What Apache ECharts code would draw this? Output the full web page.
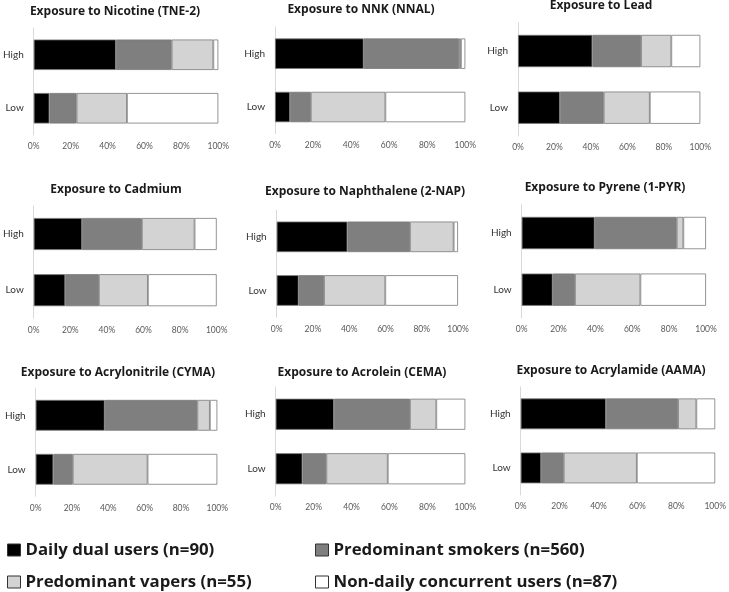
<!DOCTYPE html>
<html>
<head>
<meta charset="utf-8">
<script src="https://cdn.jsdelivr.net/npm/echarts@6/dist/echarts.min.js"></script>
<style>
  html, body { margin: 0; padding: 0; background: #fff; }
  #chart { width: 729px; height: 592px; }
</style>
</head>
<body>
<div id="chart"></div>
<script>
// ---- Data ----
const panelTitles = [
  'Exposure to Nicotine (TNE-2)',
  'Exposure to NNK (NNAL)',
  'Exposure to Lead',
  'Exposure to Cadmium',
  'Exposure to Naphthalene (2-NAP)',
  'Exposure to Pyrene (1-PYR)',
  'Exposure to Acrylonitrile (CYMA)',
  'Exposure to Acrolein (CEMA)',
  'Exposure to Acrylamide (AAMA)'
];
const levels = ['High', 'Low'];
const seriesNames = [
  'Daily dual users (n=90)',
  'Predominant smokers (n=560)',
  'Predominant vapers (n=55)',
  'Non-daily concurrent users (n=87)'
];
// values per panel: [High, Low] in %
const dailyDual   = [[44.5, 8.5], [46.6, 7.9], [40.8, 23.0], [26.4, 17.2], [39.0, 12.1], [39.6, 16.8], [38.0, 9.7], [30.7, 14.1], [43.8, 10.5]];
const predSmokers = [[30.2, 14.7], [50.1, 10.9], [26.7, 24.0], [32.7, 18.4], [34.5, 14.0], [44.5, 12.1], [51.0, 10.7], [40.1, 12.6], [37.1, 11.6]];
const predVapers  = [[22.6, 27.3], [1.0, 39.2], [16.6, 25.3], [28.8, 26.8], [24.1, 33.8], [3.6, 35.5], [6.9, 41.2], [13.9, 32.4], [9.4, 37.6]];
const nonDaily    = [[2.7, 49.5], [2.3, 42.0], [15.9, 27.7], [12.1, 37.6], [2.4, 40.1], [12.3, 35.6], [4.1, 38.4], [15.3, 40.9], [9.7, 40.3]];
const xTickStep = 20;

// ---- Layout (pixel positions, styles) ----
const gridBoxes = [
  // left, right(x of 100%), top, bottom
  [30.3, 218.3, 28, 135],
  [275, 465.3, 27, 133.7],
  [518, 700.3, 22.7, 136],
  [32.3, 216.7, 205.9, 318.3],
  [276.7, 458, 210, 317.3],
  [521.7, 706, 204.7, 318],
  [35.7, 217.3, 388.3, 496.3],
  [275.7, 465.3, 387, 496],
  [520.7, 718.3, 386.8, 495]
];
const titlePos = [
  [115, 12], [361, 10], [601, 6],
  [116, 190], [365, 192], [605, 188],
  [118, 373], [362, 373], [611, 371]
];
const colors = ['#000000', '#7f7f7f', '#d3d3d3', '#ffffff'];
const seriesValues = [dailyDual, predSmokers, predVapers, nonDaily];
const FONT = 'Lato, "Open Sans", sans-serif';
const BOLDFONT = '"Open Sans", Lato, sans-serif';

const W = 729, H = 592;
const grids = [], xAxes = [], yAxes = [], titles = [], series = [];
gridBoxes.forEach((b, i) => {
  grids.push({ left: b[0], width: b[1] - b[0], top: b[2], height: b[3] - b[2], containLabel: false });
  xAxes.push({
    gridIndex: i, type: 'value', min: 0, max: 100, interval: xTickStep,
    axisLine: { show: false }, axisTick: { show: false }, splitLine: { show: false },
    axisLabel: { formatter: '{value}%', fontSize: 8.5, color: '#595959', margin: 7, fontFamily: FONT }
  });
  yAxes.push({
    gridIndex: i, type: 'category', data: levels, inverse: true,
    axisLine: { show: true, lineStyle: { color: '#d9d9d9', width: 1 } },
    axisTick: { show: false }, splitLine: { show: false },
    axisLabel: { fontSize: 10, color: '#333', margin: 10, fontFamily: FONT }
  });
  titles.push({
    text: panelTitles[i], left: titlePos[i][0], top: titlePos[i][1] - 8, textAlign: 'center',
    padding: 0,
    textStyle: { fontSize: 12, fontWeight: 'bold', color: '#1a1a1a', fontFamily: BOLDFONT, lineHeight: 16 }
  });
  seriesNames.forEach((name, s) => {
    series.push({
      name, type: 'bar', stack: 'p' + i, xAxisIndex: i, yAxisIndex: i,
      data: seriesValues[s][i], barCategoryGap: '43%',
      itemStyle: { color: colors[s], borderColor: '#7a7a7a', borderWidth: 0.8 },
      emphasis: { disabled: true }, animation: false
    });
  });
});

const legendPos = [[7, 550], [315, 550], [7, 582], [315, 582]];
const legends = seriesNames.map((name, s) => ({
  data: [name], left: legendPos[s][0], top: legendPos[s][1] - 11,
  padding: 0,
  itemWidth: 13, itemHeight: 12, selectedMode: false,
  icon: 'rect',
  itemStyle: { borderColor: '#333', borderWidth: 1 },
  textStyle: { fontSize: 16.8, fontWeight: 'bold', color: '#1a1a1a', fontFamily: BOLDFONT, lineHeight: 22 }
}));

const chart = echarts.init(document.getElementById('chart'), null, { renderer: 'canvas', width: W, height: H });
chart.setOption({
  backgroundColor: '#ffffff',
  animation: false,
  title: titles,
  legend: legends,
  grid: grids,
  xAxis: xAxes,
  yAxis: yAxes,
  series
});
</script>
</body>
</html>
